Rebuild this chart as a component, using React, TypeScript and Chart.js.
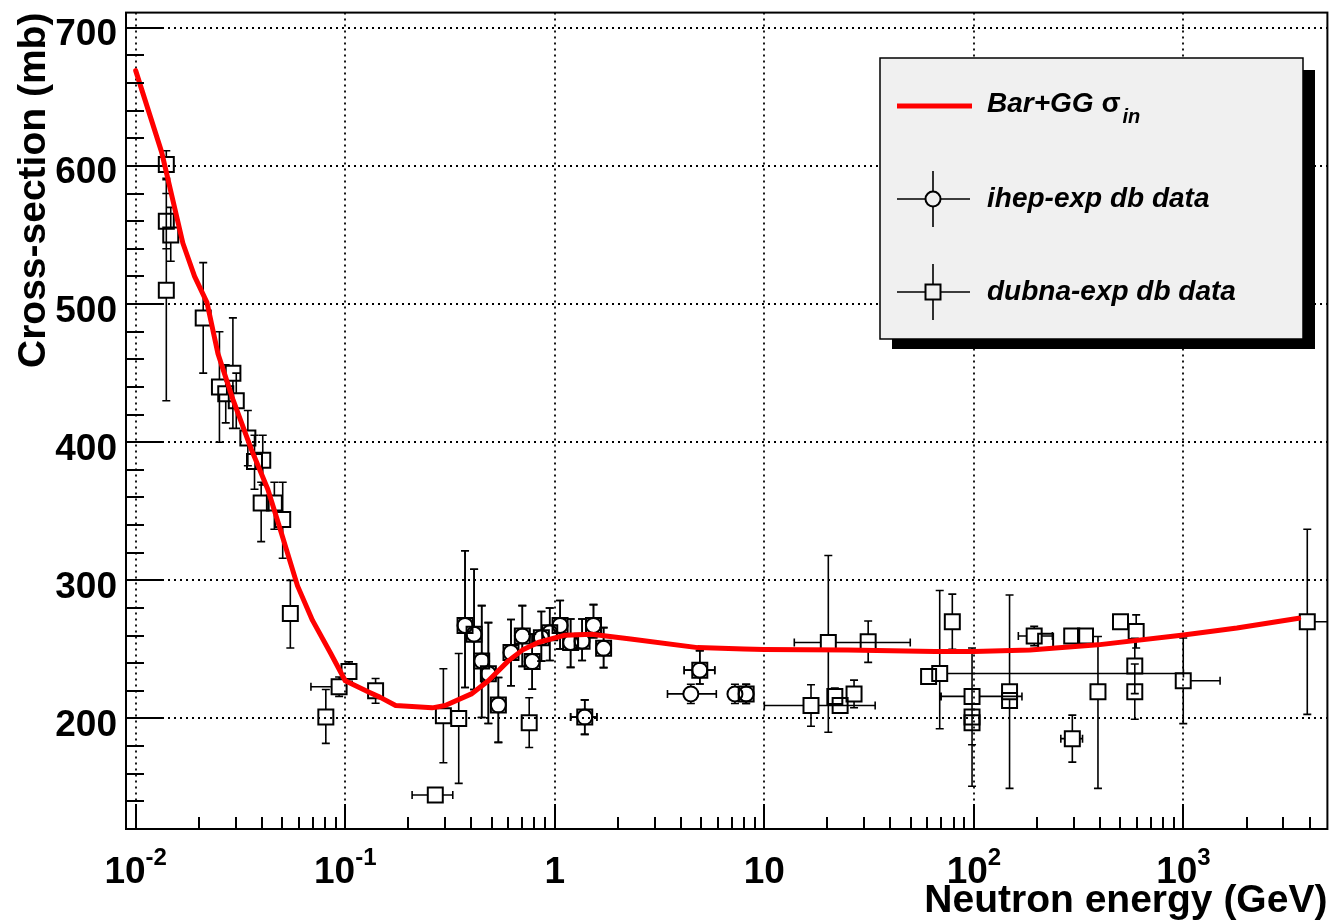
import React, { useEffect, useRef } from 'react';
import { Chart, registerables } from 'chart.js';

Chart.register(...registerables);

// ---------- axis ranges ----------
const X_MIN = 0.00899;
const X_MAX = 4865;
const Y_MIN = 120;
const Y_MAX = 711;

// ---------- ticks ----------
const xTickValues = [0.01, 0.1, 1, 10, 100, 1000];
const xTickBase = ['10', '10', '1', '10', '10', '10'];
const xTickExp = ['-2', '-1', '', '', '2', '3'];
const yTickValues = [200, 300, 400, 500, 600, 700];
const yTickLabels = ['200', '300', '400', '500', '600', '700'];

// ---------- labels ----------
const xTitle = 'Neutron energy (GeV)';
const yTitle = 'Cross-section (mb)';
const legendLabels = ['Bar+GG σ', 'ihep-exp db data', 'dubna-exp db data'];
const legendSub = 'in';

// ---------- Bar+GG model curve ----------
const curveE = [0.01, 0.0133, 0.0168, 0.0191, 0.0219, 0.0247, 0.0291, 0.0356, 0.0427, 0.0494, 0.0592, 0.0698, 0.0853, 0.1, 0.13, 0.147, 0.174, 0.26, 0.3, 0.4, 0.482, 0.6, 0.7, 0.833, 1.12, 1.5, 2.3, 4.8, 8.0, 10, 25, 65, 100, 185, 390, 1000, 1800, 3550];
const curveSigma = [669, 610, 544, 520, 501, 464, 431, 395, 366, 335, 296, 271, 247, 227.3, 219, 215.3, 209.4, 207.7, 209.4, 217.8, 227.3, 241.7, 249.5, 255, 260.3, 261, 257.5, 251.3, 250.3, 250, 249.5, 248.5, 248.5, 249.5, 253.3, 260.5, 265.5, 272.5];

// ---------- dubna-exp data (squares) ----------
const dubnaE = [0.014, 0.014, 0.0147, 0.014, 0.021, 0.0251, 0.0269, 0.0291, 0.0302, 0.0343, 0.0369, 0.0404, 0.0397, 0.0459, 0.0503, 0.0547, 0.0808, 0.0935, 0.1042, 0.1396,
  0.269, 0.294, 0.348, 0.755,
  0.373, 0.412, 0.448, 0.482, 0.538, 0.618, 0.7, 0.78, 0.863, 0.946, 1.06, 1.19, 1.35, 1.53, 1.71, 1.39, 4.92, 8.19,
  16.7, 20.2, 21.7, 23.0, 26.8, 31.3, 60.8, 68.7, 78.9, 98, 98, 98, 148, 148, 194, 220, 293, 341, 295, 391, 501, 595, 586, 586, 998, 3900];
const dubnaSigma = [601, 560, 550, 510, 490, 440, 435, 450, 430, 403, 386, 387, 356, 356, 344, 276, 201, 223, 234, 220,
  144.6, 202, 200, 197,
  267.4, 261, 241.7, 232.4, 209.7, 247.7, 259.7, 241.2, 258.5, 262, 267.4, 255, 256, 267.4, 250.8, 201, 235, 217.8,
  209.4, 255, 216, 209.4, 217.8, 255.6, 230.4, 232.6, 270, 216, 201, 197, 219.4, 213, 259.7, 256, 259.7, 259.7, 185.4, 219.4, 270, 263, 238, 219.4, 227.3, 270];
const dubnaErrLow = [10, 20, 19, 80, 40, 40, 21, 40, 20, 20, 20, 18, 28, 19, 28, 25, 19, 7, 7, 9,
  3, 34, 47, 18,
  45, 40, 41, 36, 27, 24, 22, 20, 17, 20, 17, 18, 14, 9, 14, 12.5, 10, 7,
  15, 65, 6, 0, 10, 15, 0, 40, 20, 35, 50, 0, 70, 0, 7, 0, 0, 0, 17, 70, 0, 12, 20, 20, 31, 67];
const dubnaErrHigh = [10, 20, 20, 80, 40, 40, 21, 40, 20, 20, 19, 18, 15, 15, 27, 24, 20, 7, 7, 9,
  3, 34, 47, 18,
  54, 47, 40, 37, 20, 24, 22, 20, 19, 18, 18, 17, 16, 15, 15, 12.5, 14, 7,
  15, 63, 6, 0, 10, 15, 0, 60, 20, 35, 50, 0, 70, 0, 7, 0, 0, 0, 17, 40, 0, 12, 20, 20, 31, 67];
const dubnaELow = [0, 0, 0, 0, 0, 0, 0, 0, 0, 0, 0, 0, 0, 0, 0, 0, 0, 0.0686, 0, 0,
  0.2085, 0, 0, 0,
  0, 0, 0, 0, 0, 0, 0, 0, 0, 0, 0, 0, 0, 0, 0, 1.19, 4.146, 0,
  10.0, 13.9, 0, 0, 0, 0, 0, 0, 0, 69.8, 0, 0, 0, 0, 163, 0, 0, 0, 260, 0, 0, 0, 0, 0, 0, 0];
const dubnaEHigh = [0, 0, 0, 0, 0, 0, 0, 0, 0, 0, 0, 0, 0, 0, 0, 0, 0, 0, 0, 0,
  0.326, 0, 0, 0,
  0, 0, 0, 0, 0, 0, 0, 0, 0, 0, 0, 0, 0, 0, 0, 1.588, 5.8, 0,
  33.8, 49.7, 0, 0, 0, 0, 0, 1000, 0, 169.6, 0, 0, 0, 0, 237, 0, 0, 0, 330, 0, 0, 0, 0, 0, 1496, 6000];

// ---------- ihep-exp data (circles) ----------
const ihepE = [0.373, 0.412, 0.448, 0.482, 0.538, 0.618, 0.7, 0.78, 0.863, 0.946, 1.06, 1.19, 1.35, 1.53, 1.71, 1.39, 4.46, 4.92, 7.24, 8.19];
const ihepSigma = [267.4, 261, 241.7, 232.4, 209.7, 247.7, 259.7, 241.2, 258.5, 262, 267.4, 255, 256, 267.4, 250.8, 201, 217.8, 235, 217.8, 217.8];
const ihepErrLow = [45, 40, 41, 36, 27, 24, 22, 20, 17, 20, 17, 18, 14, 9, 14, 12.5, 7, 10, 7, 7];
const ihepErrHigh = [54, 47, 40, 37, 20, 24, 22, 20, 19, 18, 18, 17, 16, 15, 15, 12.5, 7, 14, 7, 7];
const ihepELow = [0, 0, 0, 0, 0, 0, 0, 0, 0, 0, 0, 0, 0, 0, 0, 1.19, 3.45, 4.146, 0, 0];
const ihepEHigh = [0, 0, 0, 0, 0, 0, 0, 0, 0, 0, 0, 0, 0, 0, 0, 1.588, 5.9, 5.8, 0, 0];

const FONT = '"Liberation Sans", Arial, Helvetica, sans-serif';

function drawErrors(ctx: CanvasRenderingContext2D, xs: any, ys: any, E: number[], S: number[], lo: number[], hi: number[], eLo: number[], eHi: number[], gap: number) {
  const cap = 4;
  ctx.beginPath();
  for (let i = 0; i < E.length; i++) {
    const px = xs.getPixelForValue(E[i]);
    const py = ys.getPixelForValue(S[i]);
    if (hi[i] > 0) {
      const t = ys.getPixelForValue(S[i] + hi[i]);
      if (py - t > gap) { ctx.moveTo(px, py - gap); ctx.lineTo(px, t); ctx.moveTo(px - cap, t); ctx.lineTo(px + cap, t); }
    }
    if (lo[i] > 0) {
      const b = ys.getPixelForValue(S[i] - lo[i]);
      if (b - py > gap) { ctx.moveTo(px, py + gap); ctx.lineTo(px, b); ctx.moveTo(px - cap, b); ctx.lineTo(px + cap, b); }
    }
    if (eLo[i] > 0) {
      const l = xs.getPixelForValue(eLo[i]);
      if (px - l > gap) { ctx.moveTo(px - gap, py); ctx.lineTo(l, py); ctx.moveTo(l, py - cap); ctx.lineTo(l, py + cap); }
    }
    if (eHi[i] > 0) {
      const r = xs.getPixelForValue(eHi[i]);
      if (r - px > gap) { ctx.moveTo(px + gap, py); ctx.lineTo(r, py); ctx.moveTo(r, py - cap); ctx.lineTo(r, py + cap); }
    }
  }
  ctx.stroke();
}

const rootPlugin = {
  id: 'rootStyle',
  beforeDatasetsDraw(chart: any) {
    const { ctx, chartArea: a } = chart;
    const xs = chart.scales.x;
    const ys = chart.scales.y;
    ctx.save();
    ctx.beginPath();
    ctx.rect(a.left, a.top, a.right - a.left, a.bottom - a.top);
    ctx.clip();
    // dotted grid
    ctx.strokeStyle = '#000';
    ctx.lineWidth = 1.8;
    ctx.setLineDash([2, 4]);
    ctx.beginPath();
    xTickValues.forEach((v) => {
      const px = Math.round(xs.getPixelForValue(v));
      ctx.moveTo(px, a.top);
      ctx.lineTo(px, a.bottom);
    });
    yTickValues.forEach((v) => {
      const py = Math.round(ys.getPixelForValue(v));
      ctx.moveTo(a.left, py);
      ctx.lineTo(a.right, py);
    });
    ctx.stroke();
    ctx.setLineDash([]);
    // error bars
    ctx.lineWidth = 1.6;
    drawErrors(ctx, xs, ys, dubnaE, dubnaSigma, dubnaErrLow, dubnaErrHigh, dubnaELow, dubnaEHigh, 7.5);
    drawErrors(ctx, xs, ys, ihepE, ihepSigma, ihepErrLow, ihepErrHigh, ihepELow, ihepEHigh, 7.5);
    ctx.restore();
  },
  afterDatasetsDraw(chart: any) {
    const { ctx, chartArea: a } = chart;
    const xs = chart.scales.x;
    const ys = chart.scales.y;
    ctx.save();
    ctx.strokeStyle = '#000';
    ctx.fillStyle = '#000';
    // ticks
    ctx.lineWidth = 2;
    ctx.beginPath();
    for (let v = 140; v <= Y_MAX; v += 20) {
      const py = Math.round(ys.getPixelForValue(v));
      const len = v % 100 === 0 ? 36 : 18;
      ctx.moveTo(a.left, py);
      ctx.lineTo(a.left + len, py);
    }
    for (let d = -2; d <= 3; d++) {
      for (let m = 1; m <= 9; m++) {
        const v = m * Math.pow(10, d);
        if (v < X_MIN || v > X_MAX) continue;
        const px = Math.round(xs.getPixelForValue(v));
        const len = m === 1 ? 25 : 12;
        ctx.moveTo(px, a.bottom);
        ctx.lineTo(px, a.bottom - len);
      }
    }
    ctx.stroke();
    // frame
    ctx.lineWidth = 2;
    ctx.strokeRect(a.left, a.top, a.right - a.left, a.bottom - a.top);

    // y tick labels
    ctx.font = `bold 37px ${FONT}`;
    ctx.textAlign = 'right';
    ctx.textBaseline = 'alphabetic';
    yTickValues.forEach((v, i) => {
      const py = ys.getPixelForValue(v);
      ctx.fillText(yTickLabels[i], a.left - 9, py + 17.5);
    });
    // x tick labels with exponents
    ctx.textAlign = 'left';
    xTickValues.forEach((v, i) => {
      const px = xs.getPixelForValue(v);
      ctx.font = `bold 37px ${FONT}`;
      const wb = ctx.measureText(xTickBase[i]).width;
      ctx.font = `bold 24px ${FONT}`;
      const we = xTickExp[i] ? ctx.measureText(xTickExp[i]).width : 0;
      const left = px - (wb + we) / 2;
      ctx.font = `bold 37px ${FONT}`;
      ctx.fillText(xTickBase[i], left, 883);
      if (xTickExp[i]) {
        ctx.font = `bold 24px ${FONT}`;
        ctx.fillText(xTickExp[i], left + wb, 865);
      }
    });
    // axis titles
    ctx.font = `bold 39px ${FONT}`;
    ctx.textAlign = 'right';
    ctx.fillText(xTitle, a.right, 912);
    ctx.save();
    ctx.translate(45, a.top);
    ctx.rotate(-Math.PI / 2);
    ctx.textAlign = 'right';
    ctx.fillText(yTitle, 0, 0);
    ctx.restore();

    // legend
    const bx = 880, by = 58, bw = 423, bh = 281;
    ctx.fillStyle = '#000';
    ctx.fillRect(bx + 12, by + 12, bw, bh - 2);
    ctx.fillStyle = '#f0f0f0';
    ctx.fillRect(bx, by, bw, bh);
    ctx.lineWidth = 1.5;
    ctx.strokeStyle = '#000';
    ctx.strokeRect(bx, by, bw, bh);

    // entry 1: red line
    ctx.strokeStyle = '#ff0000';
    ctx.lineWidth = 5;
    ctx.beginPath();
    ctx.moveTo(897, 106);
    ctx.lineTo(972, 106);
    ctx.stroke();
    // entry 2 / 3: markers with error cross
    ctx.strokeStyle = '#000';
    ctx.lineWidth = 1.6;
    const mx = 933;
    [199, 292].forEach((cy, k) => {
      ctx.beginPath();
      ctx.moveTo(897, cy); ctx.lineTo(mx - 7.5, cy);
      ctx.moveTo(mx + 7.5, cy); ctx.lineTo(970, cy);
      ctx.moveTo(mx, cy - 28); ctx.lineTo(mx, cy - 7.5);
      ctx.moveTo(mx, cy + 7.5); ctx.lineTo(mx, cy + 28);
      ctx.stroke();
      ctx.lineWidth = 2;
      ctx.beginPath();
      if (k === 0) ctx.arc(mx, cy, 7.5, 0, Math.PI * 2);
      else ctx.rect(mx - 7.5, cy - 7.5, 15, 15);
      ctx.stroke();
      ctx.lineWidth = 1.6;
    });
    // texts
    ctx.fillStyle = '#000';
    ctx.textAlign = 'left';
    ctx.font = `italic bold 28px ${FONT}`;
    const main = legendLabels[0].replace(' σ', '');
    ctx.fillText(main, 987, 112);
    const wMain = ctx.measureText(main + ' ').width;
    ctx.font = `bold 28px ${FONT}`;
    ctx.fillText('σ', 987 + wMain, 112);
    const wSig = ctx.measureText('σ').width;
    ctx.font = `italic bold 20px ${FONT}`;
    ctx.fillText(legendSub, 987 + wMain + wSig + 2, 123);
    ctx.font = `italic bold 28px ${FONT}`;
    ctx.fillText(legendLabels[1], 987, 207);
    ctx.fillText(legendLabels[2], 987, 300);
    ctx.restore();
  },
};

export default function App() {
  const ref = useRef<HTMLCanvasElement | null>(null);
  useEffect(() => {
    if (!ref.current) return;
    const chart = new Chart(ref.current, {
      type: 'scatter',
      data: {
        datasets: [
          {
            type: 'line',
            label: legendLabels[0],
            data: curveE.map((e, i) => ({ x: e, y: curveSigma[i] })),
            borderColor: '#ff0000',
            borderWidth: 5,
            borderJoinStyle: 'round',
            borderCapStyle: 'round',
            pointRadius: 0,
            tension: 0,
            fill: false,
            order: 0,
          } as any,
          {
            label: legendLabels[1],
            data: ihepE.map((e, i) => ({ x: e, y: ihepSigma[i] })),
            pointStyle: 'circle',
            pointRadius: 7.5,
            borderColor: '#000',
            borderWidth: 2,
            backgroundColor: 'rgba(0,0,0,0)',
            order: 1,
          },
          {
            label: legendLabels[2],
            data: dubnaE.map((e, i) => ({ x: e, y: dubnaSigma[i] })),
            pointStyle: 'rect',
            pointRadius: 10.6,
            borderColor: '#000',
            borderWidth: 2,
            backgroundColor: 'rgba(0,0,0,0)',
            order: 2,
          },
        ],
      },
      options: {
        animation: false,
        responsive: false,
        devicePixelRatio: 1,
        events: [],
        layout: { padding: { left: 126, right: 6.5, top: 8, bottom: 91 } },
        scales: {
          x: { type: 'logarithmic', min: X_MIN, max: X_MAX, display: false },
          y: { type: 'linear', min: Y_MIN, max: Y_MAX, display: false },
        },
        plugins: { legend: { display: false }, tooltip: { enabled: false } },
      },
      plugins: [rootPlugin],
    });
    return () => chart.destroy();
  }, []);
  return (
    <div style={{ position: 'absolute', left: 0, top: 0, width: 1340, height: 920, background: '#fff' }}>
      <canvas ref={ref} width={1340} height={920} style={{ display: 'block' }} />
    </div>
  );
}
